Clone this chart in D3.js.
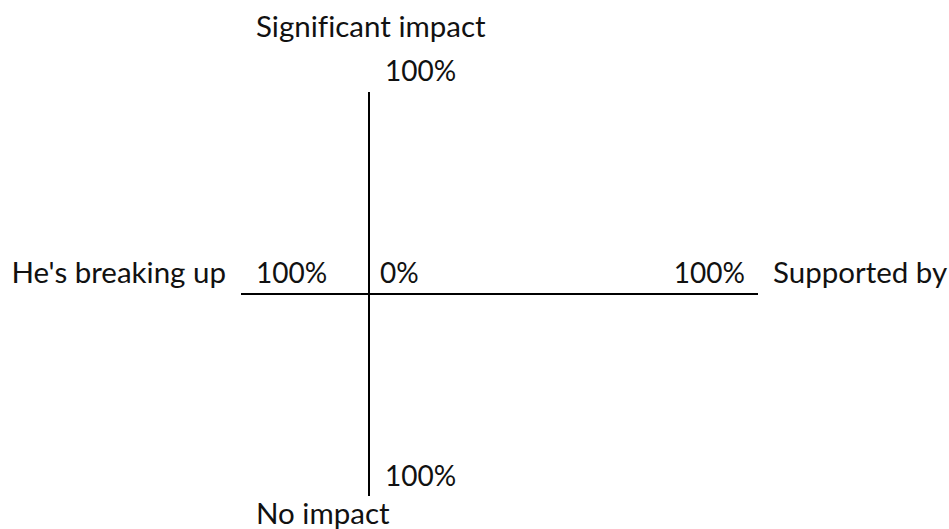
<!DOCTYPE html>
<html><head><meta charset="utf-8">
<script src="https://cdn.jsdelivr.net/npm/d3@7"></script>
<style>body{margin:0;background:#fff;}svg{display:block;}text{font-family:Lato,sans-serif;fill:#111;font-variant-ligatures:none;}</style>
</head><body>
<svg id="c" width="949" height="529"></svg>
<script>
const xAxisLabels = ["He's breaking up", "Supported by"];
const yAxisLabels = ["Significant impact", "No impact"];
const xDomain = [-100, 0, 100];
const yDomain = [100, 0, -100];
const tickLabels = ["100%", "0%", "100%"];

const W = 949, H = 529, fsW = 29.5, fsN = 28;
const svg = d3.select("#c");
const x = d3.scaleLinear().domain(xDomain).range([241, 369, 758]);
const y = d3.scaleLinear().domain(yDomain).range([92, 294, 496]);

svg.append("line").attr("x1", x(-100)).attr("x2", x(100)).attr("y1", y(0)).attr("y2", y(0))
  .attr("stroke", "#000").attr("stroke-width", 2);
svg.append("line").attr("x1", x(0)).attr("x2", x(0)).attr("y1", y(100)).attr("y2", y(-100))
  .attr("stroke", "#000").attr("stroke-width", 2);

const t = (xx, yy, s, anchor, fs) => svg.append("text").attr("x", xx).attr("y", yy)
  .attr("text-anchor", anchor).attr("font-size", fs).text(s);

t(x(-100) + 15, y(0) - 11, tickLabels[0], "start", fsN);
t(x(0) + 11, y(0) - 11, tickLabels[1], "start", fsN);
t(x(100) - 13, y(0) - 11, tickLabels[2], "end", fsN);
t(x(0) + 16, y(100) - 11, tickLabels[0], "start", fsN);
t(x(0) + 16, y(-100) - 10, tickLabels[2], "start", fsN);

t(x(-100) - 15, y(0) - 11, xAxisLabels[0], "end", fsW);
t(x(100) + 15, y(0) - 11, xAxisLabels[1], "start", fsW);
t(x(-100) + 15, 37, yAxisLabels[0], "start", fsW);
t(x(-100) + 15, 524, yAxisLabels[1], "start", fsW);
</script>
</body></html>
